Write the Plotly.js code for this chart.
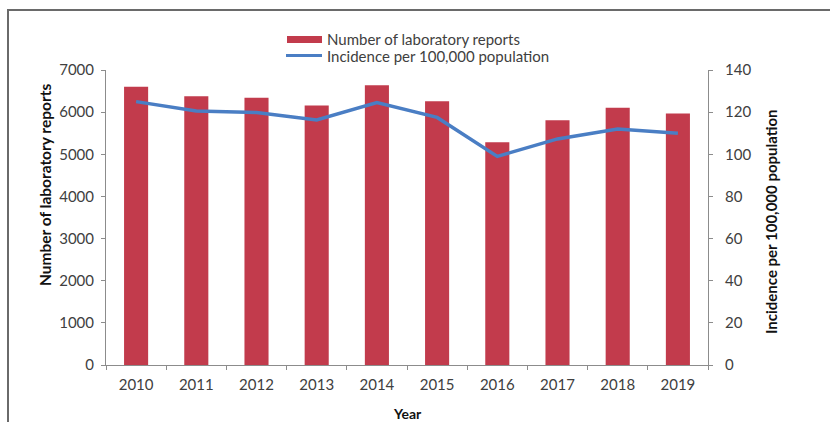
<!DOCTYPE html>
<html>
<head>
<meta charset="utf-8">
<script src="https://cdn.plot.ly/plotly-3.0.1.min.js"></script>
<style>
  html, body { margin: 0; padding: 0; background: #ffffff; }
  #wrap { position: relative; width: 830px; height: 422px; overflow: hidden; }
  #frame { position: absolute; left: 7px; top: 9px; width: 840px; height: 430px;
           border-left: 2px solid #6a6a6a; border-top: 2px solid #6a6a6a; pointer-events: none; }
  #chart { position: absolute; left: 0; top: 0; width: 830px; height: 422px; }
</style>
</head>
<body>
<div id="wrap">
  <div id="chart"></div>
  <div id="frame"></div>
</div>
<script>
// Annual laboratory reports and incidence rate, 2010–2019
const years = ['2010', '2011', '2012', '2013', '2014', '2015', '2016', '2017', '2018', '2019'];
const labReports = [6600, 6380, 6340, 6160, 6640, 6260, 5285, 5805, 6105, 5970];
const incidence = [125, 120.5, 119.8, 116.3, 124.5, 117.5, 99, 107.3, 112, 110];

const seriesNames = ['Number of laboratory reports', 'Incidence per 100,000 population'];
const axisTitles = { x: 'Year', y: 'Number of laboratory reports', y2: 'Incidence per 100,000 population' };

const fontFamily = 'Lato, "Open Sans", "Liberation Sans", sans-serif';
const textColor = '#404040';
const titleColor = '#111111';
const axisColor = '#8c8c8c';
const barColor = '#c23b4c';
const lineColor = '#4a7ec4';

// plot area in pixels, used to place the legend and titles in paper units
const M = { l: 106, r: 122, t: 70, b: 57 };
const W = 830, H = 422;
const PW = W - M.l - M.r, PH = H - M.t - M.b;
const px = x => (x - M.l) / PW;
const py = y => (H - M.b - y) / PH;

const traces = [
  {
    type: 'bar',
    name: seriesNames[0],
    x: years,
    y: labReports,
    marker: { color: barColor },
    yaxis: 'y',
    showlegend: false
  },
  {
    type: 'scatter',
    mode: 'lines',
    name: seriesNames[1],
    x: years,
    y: incidence,
    line: { color: lineColor, width: 3.5 },
    yaxis: 'y2',
    showlegend: false
  }
];

// legend keys: a wide bar swatch and a line sample
const shapes = [
  { type: 'rect', xref: 'paper', yref: 'paper',
    x0: px(287), x1: px(322), y0: py(43), y1: py(36),
    fillcolor: barColor, line: { width: 0 } },
  { type: 'line', xref: 'paper', yref: 'paper',
    x0: px(286), x1: px(322), y0: py(55.5), y1: py(55.5),
    line: { color: lineColor, width: 3 } }
];

const titleFont = (size) => ({ family: fontFamily, size: size, color: titleColor, weight: 'bold' });

const annotations = [
  { xref: 'paper', yref: 'paper', x: px(325), y: py(38.5), xanchor: 'left', yanchor: 'middle',
    text: seriesNames[0], showarrow: false, font: { family: fontFamily, size: 15, color: textColor } },
  { xref: 'paper', yref: 'paper', x: px(325), y: py(56.5), xanchor: 'left', yanchor: 'middle',
    text: seriesNames[1], showarrow: false, font: { family: fontFamily, size: 15, color: textColor } },
  { xref: 'paper', yref: 'paper', x: px(407), y: py(413), xanchor: 'center', yanchor: 'middle',
    text: axisTitles.x, showarrow: false, font: titleFont(14) },
  { xref: 'paper', yref: 'paper', x: px(45), y: py(185), xanchor: 'center', yanchor: 'middle',
    text: axisTitles.y, showarrow: false, textangle: -90, font: titleFont(15.5) },
  { xref: 'paper', yref: 'paper', x: px(771), y: py(222), xanchor: 'center', yanchor: 'middle',
    text: axisTitles.y2, showarrow: false, textangle: -90, font: titleFont(15) }
];

const tickFont = { family: fontFamily, size: 15, color: textColor };

const layout = {
  width: W,
  height: H,
  margin: M,
  paper_bgcolor: 'rgba(0,0,0,0)',
  plot_bgcolor: 'rgba(0,0,0,0)',
  font: { family: fontFamily, size: 14, color: textColor },
  bargap: 0.6,
  showlegend: false,
  shapes: shapes,
  annotations: annotations,
  xaxis: {
    type: 'category',
    showline: true, linecolor: axisColor, linewidth: 1,
    ticks: 'outside', tickson: 'boundaries', ticklen: 4, tickcolor: axisColor,
    showgrid: false, zeroline: false,
    tickfont: tickFont,
    ticklabelstandoff: 6
  },
  yaxis: {
    range: [0, 7000], dtick: 1000,
    showline: true, linecolor: axisColor, linewidth: 1,
    ticks: 'outside', ticklen: 4, tickcolor: axisColor,
    showgrid: false, zeroline: false,
    tickfont: tickFont,
    ticklabelstandoff: 4
  },
  yaxis2: {
    range: [0, 140], dtick: 20,
    overlaying: 'y', side: 'right',
    showline: true, linecolor: axisColor, linewidth: 1,
    ticks: 'outside', ticklen: 4, tickcolor: axisColor,
    showgrid: false, zeroline: false,
    tickfont: tickFont,
    ticklabelstandoff: 9
  }
};

Plotly.newPlot('chart', traces, layout, { staticPlot: true, displayModeBar: false });
</script>
</body>
</html>
